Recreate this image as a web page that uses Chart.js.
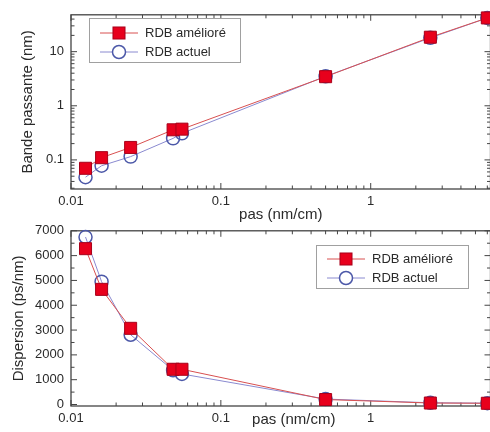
<!DOCTYPE html>
<html lang="fr">
<head>
<meta charset="utf-8">
<script src="https://cdn.jsdelivr.net/npm/chart.js@4"></script>
<style>
  html, body { margin: 0; padding: 0; background: #fff; overflow: hidden; width: 490px; height: 432px; }
  .bloc { position: absolute; left: 0; width: 500px; }
  #bloc-bande { top: 0; height: 224px; }
  #bloc-disp { top: 216px; height: 216px; }
</style>
</head>
<body>
<div class="bloc" id="bloc-bande"><canvas id="chart-bande" width="500" height="224"></canvas></div>
<div class="bloc" id="bloc-disp"><canvas id="chart-disp" width="500" height="216"></canvas></div>

<script>
/* ============================================================
   DONNÉES
============================================================ */
const PAS = [0.0125, 0.016, 0.025, 0.048, 0.055, 0.5, 2.5, 6];

const BANDE_AMELIORE = [0.07, 0.11, 0.17, 0.36, 0.37, 3.45, 18.5, 42];
const BANDE_ACTUEL   = [0.048, 0.078, 0.115, 0.25, 0.31, 3.5, 18, 42];

const DISP_AMELIORE = [6280, 4640, 3070, 1420, 1420, 200, 60, 50];
const DISP_ACTUEL   = [6750, 4950, 2810, 1380, 1230, 220, 70, 55];

const LABELS_SERIES = ["RDB amélioré", "RDB actuel"];
const TICKS_X = [0.01, 0.1, 1];
const TICKS_Y_BANDE = [0.1, 1, 10];
const TICKS_Y_DISP = [0, 1000, 2000, 3000, 4000, 5000, 6000, 7000];
const TITRE_X = "pas (nm/cm)";

const POLICE = "Arial, 'Liberation Sans', sans-serif";
const COUL_TEXTE = "#2a2a2a";

/* ============================================================
   PLUGIN : cadre + graduations vers l'intérieur
============================================================ */
function valeursGraduations(scale) {
    const res = [];
    if (scale.type === "logarithmic") {
        const d0 = Math.floor(Math.log10(scale.min));
        const d1 = Math.ceil(Math.log10(scale.max));
        for (let d = d0; d <= d1; d++) {
            for (let m = 1; m <= 9; m++) {
                const v = m * Math.pow(10, d);
                if (v < scale.min * 0.9999 || v > scale.max * 1.0001) continue;
                res.push({ v, major: m === 1 });
            }
        }
    } else {
        for (let v = 0; v <= scale.max; v += 500) {
            res.push({ v, major: v % 1000 === 0 });
        }
    }
    return res;
}

const cadreTicks = {
    id: "cadreTicks",
    beforeDatasetsDraw(chart) {
        const { ctx, chartArea: a, scales } = chart;
        ctx.save();
        ctx.strokeStyle = "#444";
        ctx.lineWidth = 1.3;
        ctx.strokeRect(a.left, a.top, a.right - a.left, a.bottom - a.top);

        ctx.lineWidth = 1;
        ctx.beginPath();
        for (const g of valeursGraduations(scales.x)) {
            const px = scales.x.getPixelForValue(g.v);
            const L = g.major ? 6 : 3.5;
            ctx.moveTo(px, a.bottom); ctx.lineTo(px, a.bottom - L);
            ctx.moveTo(px, a.top);    ctx.lineTo(px, a.top + L);
        }
        for (const g of valeursGraduations(scales.y)) {
            const py = scales.y.getPixelForValue(g.v);
            if (py < a.top - 0.5 || py > a.bottom + 0.5) continue;
            const L = g.major ? 6 : 3.5;
            ctx.moveTo(a.left, py);  ctx.lineTo(a.left + L, py);
            ctx.moveTo(a.right, py); ctx.lineTo(a.right - L, py);
        }
        ctx.stroke();
        ctx.restore();
    }
};

/* ============================================================
   PLUGIN : titre de l'axe x décalé (graphique du bas)
============================================================ */
const titreDecale = {
    id: "titreDecale",
    afterDraw(chart, args, opts) {
        if (!opts.texte) return;
        const { ctx, scales } = chart;
        const sx = scales.x;
        ctx.save();
        ctx.fillStyle = COUL_TEXTE;
        ctx.font = "15px " + POLICE;
        ctx.textAlign = "center";
        ctx.textBaseline = "middle";
        ctx.fillText(opts.texte, (sx.left + sx.right) / 2 + opts.dx, sx.bottom - opts.dy);
        ctx.restore();
    }
};

/* ============================================================
   PLUGIN : légende encadrée dans le graphique
============================================================ */
const legendeBoite = {
    id: "legendeBoite",
    afterDraw(chart, args, opts) {
        const { ctx } = chart;
        const { x, y, w, h } = opts;
        ctx.save();
        ctx.fillStyle = "#fff";
        ctx.fillRect(x, y, w, h);
        ctx.strokeStyle = "#a0a0a0";
        ctx.lineWidth = 1;
        ctx.strokeRect(x + 0.5, y + 0.5, w, h);

        chart.data.datasets.forEach((ds, i) => {
            const ry = y + opts.rang0 + i * opts.pasRang;
            const mx = x + 30;
            ctx.strokeStyle = ds.borderColor;
            ctx.lineWidth = 1;
            ctx.beginPath();
            ctx.moveTo(x + 11, ry);
            ctx.lineTo(x + 49, ry);
            ctx.stroke();

            if (ds.pointStyle === "rect") {
                const s = ds.pointRadius * Math.SQRT1_2;
                ctx.fillStyle = ds.pointBackgroundColor;
                ctx.fillRect(mx - s, ry - s, 2 * s, 2 * s);
                ctx.strokeStyle = ds.pointBorderColor;
                ctx.lineWidth = ds.pointBorderWidth;
                ctx.strokeRect(mx - s, ry - s, 2 * s, 2 * s);
            } else {
                ctx.fillStyle = "#fff";
                ctx.strokeStyle = ds.pointBorderColor;
                ctx.lineWidth = ds.pointBorderWidth;
                ctx.beginPath();
                ctx.arc(mx, ry, ds.pointRadius, 0, Math.PI * 2);
                ctx.fill();
                ctx.stroke();
            }

            ctx.fillStyle = COUL_TEXTE;
            ctx.font = "13px " + POLICE;
            ctx.textBaseline = "middle";
            ctx.textAlign = "left";
            ctx.fillText(ds.label, x + 56, ry + 0.5);
        });
        ctx.restore();
    }
};

/* ============================================================
   OUTILS
============================================================ */
function estDans(v, liste) {
    return liste.some(t => Math.abs(Math.log10(v) - Math.log10(t)) < 1e-6);
}

function seriesDe(donneesA, donneesB) {
    return [
        {
            label: LABELS_SERIES[0],
            data: PAS.map((p, i) => ({ x: p, y: donneesA[i] })),
            borderColor: "#d85050",
            borderWidth: 1,
            pointStyle: "rect",
            pointRadius: 8.5,
            pointBackgroundColor: "#e8001c",
            pointBorderColor: "#a8001a",
            pointBorderWidth: 1,
            clip: false
        },
        {
            label: LABELS_SERIES[1],
            data: PAS.map((p, i) => ({ x: p, y: donneesB[i] })),
            borderColor: "#8a8ad0",
            borderWidth: 1,
            pointStyle: "circle",
            pointRadius: 6.5,
            pointBackgroundColor: "rgba(255,255,255,0)",
            pointBorderColor: "#4c58a8",
            pointBorderWidth: 1.5,
            clip: false
        }
    ];
}

function axeX(hauteur, avecTitre, padTitre) {
    return {
        type: "logarithmic",
        min: 0.01,
        max: 6.3,
        afterFit: s => { s.height = hauteur; },
        grid: { display: false, drawTicks: false },
        border: { display: false },
        ticks: {
            autoSkip: false,
            maxRotation: 0,
            padding: 5,
            color: COUL_TEXTE,
            font: { family: POLICE, size: 13 },
            callback: v => estDans(v, TICKS_X) ? String(v) : ""
        },
        title: {
            display: avecTitre,
            text: TITRE_X,
            color: COUL_TEXTE,
            font: { family: POLICE, size: 15 },
            padding: padTitre
        }
    };
}

const optsCommunes = {
    responsive: false,
    animation: false,
    devicePixelRatio: 1,
    events: [],
    elements: { line: { tension: 0 } }
};

Chart.defaults.font.family = POLICE;

/* ============================================================
   GRAPHIQUE 1 : BANDE PASSANTE
============================================================ */
new Chart(document.getElementById("chart-bande"), {
    type: "line",
    data: { datasets: seriesDe(BANDE_AMELIORE, BANDE_ACTUEL) },
    options: {
        ...optsCommunes,
        layout: { padding: { top: 10, right: 3, left: 0, bottom: 0 } },
        plugins: {
            legend: { display: false },
            tooltip: { enabled: false },
            legendeBoite: { x: 89, y: 18, w: 151, h: 44, rang0: 15, pasRang: 19 },
            titreDecale: { texte: "" }
        },
        scales: {
            x: axeX(35, true, { top: 0, bottom: 0 }),
            y: {
                type: "logarithmic",
                min: 0.029,
                max: 48,
                afterFit: s => { s.width = 71; },
                grid: { display: false, drawTicks: false },
                border: { display: false },
                ticks: {
                    autoSkip: false,
                    padding: 7,
                    color: COUL_TEXTE,
                    font: { family: POLICE, size: 13 },
                    callback: v => estDans(v, TICKS_Y_BANDE) ? String(v) : ""
                },
                title: {
                    display: true,
                    text: "Bande passante (nm)",
                    color: COUL_TEXTE,
                    font: { family: POLICE, size: 15 },
                    padding: { top: 19, bottom: 0 }
                }
            }
        }
    },
    plugins: [cadreTicks, legendeBoite, titreDecale]
});

/* ============================================================
   GRAPHIQUE 2 : DISPERSION
============================================================ */
new Chart(document.getElementById("chart-disp"), {
    type: "line",
    data: { datasets: seriesDe(DISP_AMELIORE, DISP_ACTUEL) },
    options: {
        ...optsCommunes,
        layout: { padding: { top: 13, right: 3, left: 0, bottom: 0 } },
        plugins: {
            legend: { display: false },
            tooltip: { enabled: false },
            legendeBoite: { x: 316, y: 29, w: 152, h: 43, rang0: 14, pasRang: 19 },
            titreDecale: { texte: TITRE_X, dx: 13, dy: 12 }
        },
        scales: {
            x: axeX(26, false, 0),
            y: {
                type: "linear",
                min: -60,
                max: 7000,
                afterFit: s => { s.width = 71; },
                afterBuildTicks: s => { s.ticks = TICKS_Y_DISP.map(v => ({ value: v })); },
                grid: { display: false, drawTicks: false },
                border: { display: false },
                ticks: {
                    padding: 7,
                    color: COUL_TEXTE,
                    font: { family: POLICE, size: 13 },
                    callback: v => String(v)
                },
                title: {
                    display: true,
                    text: "Dispersion (ps/nm)",
                    color: COUL_TEXTE,
                    font: { family: POLICE, size: 15 },
                    padding: { top: 10, bottom: 0 }
                }
            }
        }
    },
    plugins: [cadreTicks, legendeBoite, titreDecale]
});
</script>
</body>
</html>
